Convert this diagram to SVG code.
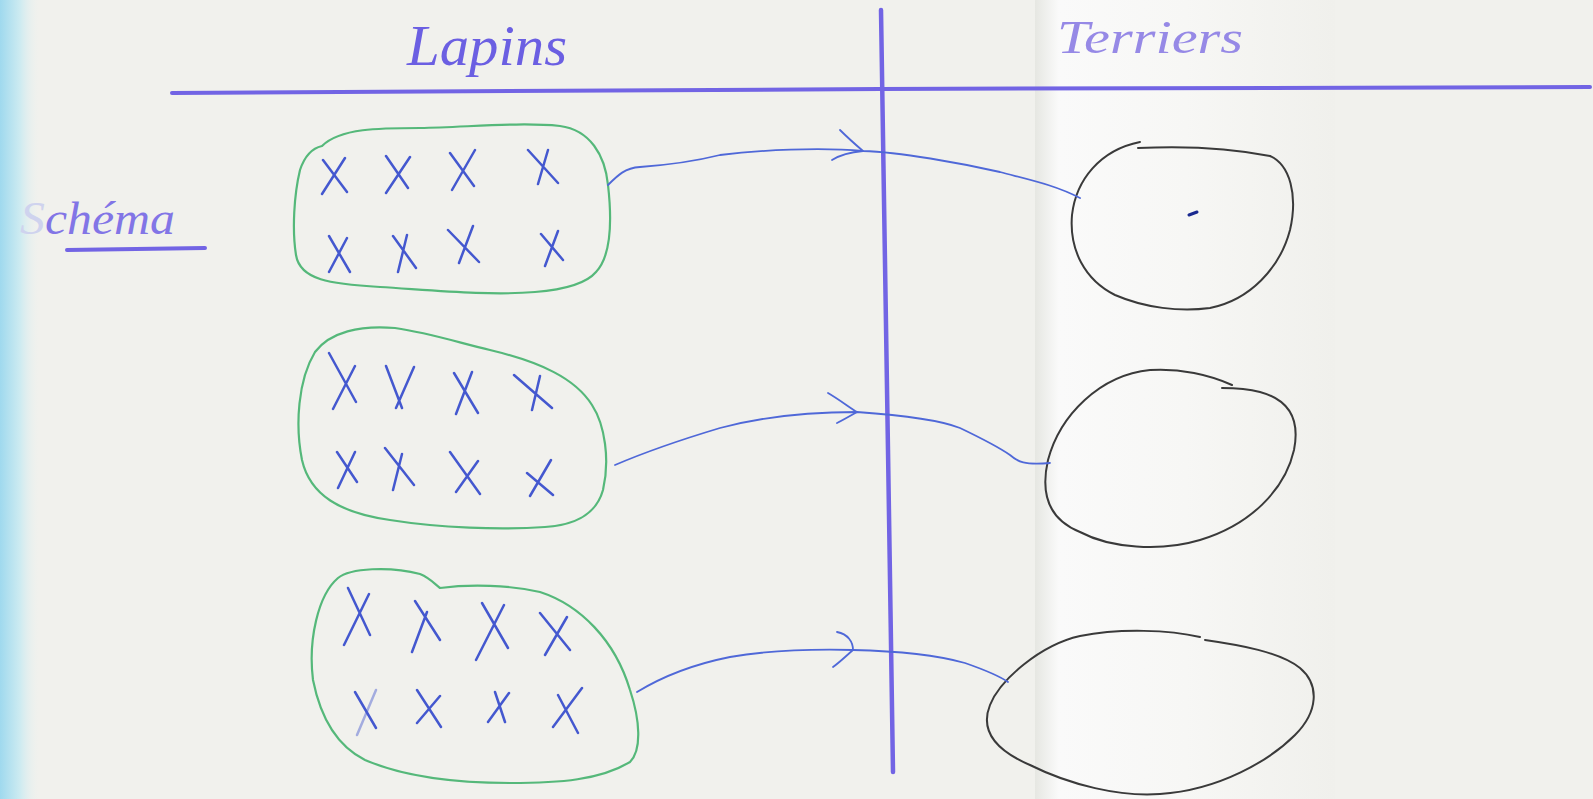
<svg xmlns="http://www.w3.org/2000/svg" width="1593" height="799" viewBox="0 0 1593 799">
<defs>
<linearGradient id="edge" x1="0" y1="0" x2="1" y2="0">
<stop offset="0" stop-color="#9fd9ee"/>
<stop offset="0.5" stop-color="#cdebf1"/>
<stop offset="1" stop-color="#eef1ee" stop-opacity="0"/>
</linearGradient>
<linearGradient id="fold" x1="0" y1="0" x2="1" y2="0">
<stop offset="0" stop-color="#e6e7e2"/>
<stop offset="0.08" stop-color="#fafafa"/>
<stop offset="0.5" stop-color="#f7f7f5"/>
<stop offset="1" stop-color="#f0f0ec"/>
</linearGradient>
<style>
.pencil{fill:none;stroke:#7264e4;stroke-linecap:round;stroke-linejoin:round}
.title{font-family:"Liberation Serif",serif;font-style:italic}
.green{fill:none;stroke:#55b87a;stroke-width:2.2;stroke-linejoin:round}
.xm{fill:none;stroke:#4458cf;stroke-width:2.5;stroke-linecap:round}
.burrow{fill:none;stroke:#3a3a3a;stroke-width:2;stroke-linecap:round;stroke-linejoin:round}
.pen{fill:none;stroke:#4f68d8;stroke-width:1.8;stroke-linecap:round;stroke-linejoin:round}
</style>
</defs>
<rect x="0" y="0" width="1593" height="799" fill="#f1f1ed"/>
<rect x="1035" y="0" width="300" height="799" fill="url(#fold)"/>
<rect x="0" y="0" width="40" height="799" fill="url(#edge)"/>

<g id="headers">
<path class="pencil" d="M172,93 L880,89 L1590,87" stroke-width="4"/>
<path class="pencil" d="M881,10 L884,200 L888,450 L893,772" stroke-width="4.5"/>
<text class="title" x="407" y="65" font-size="56" fill="#6b5fe2" textLength="160" lengthAdjust="spacingAndGlyphs">Lapins</text>
<text class="title" x="1057" y="53" font-size="46" fill="#9689e6" textLength="186" lengthAdjust="spacingAndGlyphs">Terriers</text>
<text class="title" x="20" y="234" font-size="46" fill="#8275e6" textLength="155" lengthAdjust="spacingAndGlyphs"><tspan fill="#cfd3ee">S</tspan>chéma</text>
<path class="pencil" d="M67,250 L205,248" stroke-width="4"/>
</g>

<g id="lapins1">
<path class="green" d="M322,146 C340,128 380,128 420,128 C470,127 520,122 560,126 C590,130 605,155 608,185 C612,220 612,255 596,272 C585,285 560,290 535,292 C490,296 430,290 380,287 C330,284 300,280 296,255 C292,230 294,195 300,170 C305,155 313,148 322,146 Z"/>
<path class="xm" d="M323,160 L347,192 M345,158 L322,194 M386,156 L408,188 M410,157 L386,193 M450,153 L474,186 M475,150 L452,190 M528,150 L558,183 M548,150 L538,184 M329,236 L350,272 M347,238 L329,272 M393,236 L416,268 M407,235 L398,272 M448,230 L479,262 M473,226 L459,263 M541,234 L563,260 M558,231 L545,266"/>
</g>

<g id="lapins2">
<path class="green" d="M395,328 C430,333 460,343 490,350 C540,362 575,378 592,405 C605,425 610,460 603,490 C596,515 575,525 545,527 C500,530 440,528 390,520 C340,513 310,495 302,460 C295,425 298,380 315,352 C330,332 360,325 395,328 Z"/>
<path class="xm" d="M329,353 L356,402 M355,366 L333,409 M386,366 L402,408 M414,367 L396,408 M454,373 L478,413 M472,372 L456,414 M514,375 L552,408 M540,376 L532,410 M337,452 L357,482 M355,452 L338,488 M385,448 L414,485 M402,454 L393,490 M450,452 L480,494 M478,461 L456,492 M527,473 L553,495 M551,460 L530,496"/>
</g>

<g id="lapins3">
<path class="green" d="M338,578 C350,568 390,566 420,574 C430,578 436,585 440,588 C470,584 510,585 540,592 C580,605 615,640 630,690 C640,720 642,750 630,762 C600,780 560,783 510,783 C450,783 400,775 365,760 C335,745 320,715 313,680 C308,640 318,595 338,578 Z"/>
<path class="xm" d="M348,588 L370,635 M369,594 L344,645 M415,601 L440,640 M427,612 L412,652 M482,603 L508,648 M504,605 L476,660 M540,613 L570,650 M567,617 L545,655 M355,692 L376,728"/>
<path class="xm" d="M376,690 L357,735" stroke-opacity="0.45"/>
<path class="xm" d="M417,690 L441,727 M440,696 L417,723 M495,692 L505,722 M509,693 L488,722 M558,695 L578,733 M582,688 L553,727"/>
</g>

<g id="terrier1">
<path class="burrow" d="M1140,142 C1100,150 1076,180 1072,215 C1069,250 1085,280 1115,295 C1145,308 1180,312 1210,308 C1250,300 1280,268 1290,230 C1298,195 1290,165 1270,156 C1230,148 1180,146 1138,148"/>
<path d="M1189,215 L1197,212" stroke="#1a2a90" stroke-width="3" stroke-linecap="round"/>
</g>

<g id="terrier2">
<path class="burrow" d="M1232,385 C1210,375 1180,368 1150,370 C1100,375 1060,415 1048,460 C1040,495 1050,520 1080,532 C1110,548 1160,552 1200,540 C1250,525 1285,490 1294,450 C1300,420 1290,400 1260,392 C1245,388 1230,388 1222,388"/>
</g>

<g id="terrier3">
<path class="burrow" d="M1200,637 C1170,630 1120,628 1080,636 C1040,645 1000,680 990,705 C980,730 995,750 1030,765 C1070,785 1120,797 1160,794 C1220,790 1270,760 1295,735 C1318,712 1320,685 1300,668 C1280,652 1240,645 1205,640"/>
</g>

<g id="connectors">
<path class="pen" d="M608,185 C618,175 625,168 640,167 C680,164 700,160 720,155 C760,150 820,147 863,151 C900,152 960,163 1000,172 C1030,180 1055,185 1080,198"/>
<path class="pen" d="M840,130 C848,138 856,145 863,151 C852,152 840,155 832,160"/>
<path class="pen" d="M615,465 C650,450 690,437 720,428 C750,420 790,412 857,412 C900,415 940,420 960,428 C985,440 1000,448 1010,455 C1018,462 1024,465 1050,463"/>
<path class="pen" d="M828,393 C840,400 850,408 857,412 C850,416 843,420 837,423"/>
<path class="pen" d="M637,692 C660,678 690,665 730,657 C770,650 810,649 853,650 C900,651 940,656 965,663 C985,670 998,675 1008,682"/>
<path class="pen" d="M837,632 C848,634 853,642 853,650 C846,656 840,662 833,667"/>
</g>
</svg>
